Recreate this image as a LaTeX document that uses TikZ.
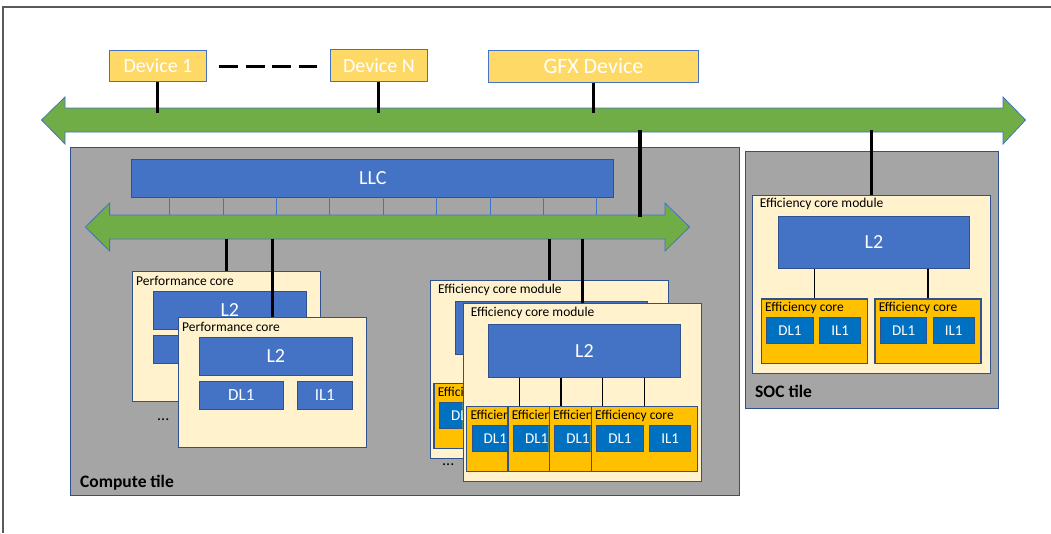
\documentclass[tikz,border=0pt]{standalone}
\usepackage{fontspec}
\setmainfont{Carlito}

\definecolor{tilegray}{HTML}{A5A5A5}
\definecolor{edgeblue}{HTML}{2F528F}
\definecolor{cacheblue}{HTML}{4472C4}
\definecolor{lonblue}{HTML}{0070C0}
\definecolor{coreyellow}{HTML}{FFC000}
\definecolor{cream}{HTML}{FFF2CC}
\definecolor{devyellow}{HTML}{FFD966}
\definecolor{busgreen}{HTML}{70AD47}

\newcommand{\fsz}[1]{\fontsize{#1}{#1}\selectfont}

\tikzset{
    boxed/.style={draw=edgeblue, line width=0.9pt, anchor=north west, inner sep=0pt},
    tile/.style={boxed, fill=tilegray, line width=1.3pt},
    devbox/.style={boxed, fill=devyellow, draw=cacheblue, text=white},
    cachebox/.style={boxed, fill=cacheblue, text=white, font=\fsz{20}},
    lonebox/.style={boxed, fill=lonblue, text=white, font=\fsz{15}},
    pcore/.style={boxed, fill=cream, minimum width=188pt, minimum height=130pt},
    emodule/.style={boxed, fill=cream, minimum width=238pt, minimum height=178pt},
    ecore/.style={boxed, fill=coreyellow, line width=1.3pt, minimum width=106pt, minimum height=64.5pt},
    lbl/.style={anchor=west, inner sep=0pt, font=\fsz{13.5}},
    tilelbl/.style={anchor=west, inner sep=0pt, font=\fsz{17.5}\bfseries},
    bus/.style={fill=busgreen, draw=cacheblue, line width=0.8pt},
    link/.style={black, line width=3.2pt},
    thinlink/.style={black, line width=1.6pt}
}

\begin{document}
\begin{tikzpicture}[x=1pt, y=-1pt]
    \useasboundingbox (0,0) rectangle (1051,533);
    \draw [black!65, line width=1.3pt] (3,533) -- (3,7) -- (1051,7);

    % system bus and devices
    \draw [bus] (41.5,120) -- (65,97) -- (65,108) -- (1003,108) -- (1003,97) -- (1025.5,120)
        -- (1003,144) -- (1003,132) -- (65,132) -- (65,144) -- cycle;
    \coordinate (busN) at (500,113);
    \coordinate (busS) at (639.5,130);
    \node [devbox, minimum width=97pt, minimum height=31pt, font=\fsz{20}] (dev1) at (109,50) {Device 1};
    \node [devbox, minimum width=97pt, minimum height=32pt, font=\fsz{20}] (devN) at (330,49) {Device N};
    \node [devbox, minimum width=210pt, minimum height=32pt, font=\fsz{22}] (gfx) at (488,50) {GFX Device};
    \foreach \d in {dev1, devN, gfx}
        \draw [link, line width=3pt] (\d.south) -- (\d.south |- busN);
    \draw [black, line width=3.5pt, dash pattern=on 19pt off 7.5pt, shorten <=12.5pt, shorten >=13pt]
        ([yshift=-0.5pt]dev1.east) -- ([yshift=-1pt]devN.west);

    % tiles
    \node [tile, minimum width=669pt, minimum height=348pt] (compute) at (70,147) {};
    \node [tile, minimum width=253pt, minimum height=257pt] (soc) at (745,151) {};
    \node [tilelbl] (computelbl) at ([xshift=10pt,yshift=14pt]compute.south west) {Compute tile};
    \node [tilelbl] (soclbl) at ([xshift=10pt,yshift=18pt]soc.south west) {SOC tile};

    % LLC and ring
    \node [cachebox, minimum width=482pt, minimum height=37.7pt] (llc) at (131.4,159) {LLC};
    \foreach \x in {169.4,222.8,...,600}
        \draw [cacheblue, line width=0.6pt] (\x,196.7) -- (\x,215);
    \draw [bus] (85.4,227) -- (109.6,203) -- (109.6,215) -- (665,215) -- (665,203) -- (689.5,227)
        -- (665,251) -- (665,239) -- (109.6,239) -- (109.6,251) -- cycle;
    \coordinate (ringN) at (639.5,217);
    \coordinate (ringS) at (400,239);
    \draw [link, line width=4pt] (busS) -- (ringN);

    % performance cores (back one mostly hidden)
    \node [pcore] (pa) at (132,271) {};
    \draw [link] (pa.north) -- (pa.north |- ringS);
    \node [lbl] (paT) at ([xshift=4pt,yshift=-10pt]pa.north west) {Performance core};
    \node [cachebox, minimum width=152.7pt, minimum height=38pt] (paL2) at ([xshift=21pt,yshift=-19.7pt]pa.north west) {L2};
    \node [lonebox, fill=cacheblue, minimum width=83.7pt, minimum height=28pt] (paD) at ([xshift=21pt,yshift=-63.7pt]pa.north west) {};

    \node [pcore] (pb) at (178,317) {};
    \draw [link] (pb.north) -- (pb.north |- ringS);
    \node [lbl] (pbT) at ([xshift=4pt,yshift=-10pt]pb.north west) {Performance core};
    \node [cachebox, minimum width=152.7pt, minimum height=38pt] (pbL2) at ([xshift=21pt,yshift=-19.7pt]pb.north west) {L2};
    \node [lonebox, fill=cacheblue, font=\fsz{17}, minimum width=83.7pt, minimum height=28pt] (pbD) at ([xshift=21pt,yshift=-63.7pt]pb.north west) {DL1};
    \node [lonebox, fill=cacheblue, font=\fsz{17}, minimum width=54.7pt, minimum height=28pt] (pbI) at ([xshift=119pt,yshift=-63.7pt]pb.north west) {IL1};
    \node [lbl, font=\fsz{16}] (pdots) at (157,420) {...};

    % efficiency core module, back
    \node [emodule] (ma) at (430,280) {};
    \draw [link] (ma.north) -- (ma.north |- ringS);
    \node [lbl] (maT) at ([xshift=8pt,yshift=-10pt]ma.north west) {Efficiency core module};
    \node [cachebox, minimum width=192pt, minimum height=52.7pt] (maL2) at ([xshift=25.3pt,yshift=-21pt]ma.north west) {};
    \node [ecore] (maC1) at ([xshift=3.3pt,yshift=-103pt]ma.north west) {};
    \begin{scope}
        \clip (maC1.north west) rectangle ([xshift=29.4pt]maC1.south west);
        \node [lbl] (maC1T) at ([xshift=4.3pt,yshift=-10pt]maC1.north west) {Efficiency core};
        \node [lonebox, minimum width=46.5pt, minimum height=26pt] (maC1D) at ([xshift=5.6pt,yshift=-19pt]maC1.north west) {DL1};
    \end{scope}
    \node [lbl, font=\fsz{16}] (edots) at (442,465) {...};

    % efficiency core module, front
    \node [emodule] (mb) at (462.7,303) {};
    \draw [link] (mb.north) -- (mb.north |- ringS);
    \node [lbl] (mbT) at ([xshift=8pt,yshift=-10pt]mb.north west) {Efficiency core module};
    \node [cachebox, minimum width=192pt, minimum height=52.7pt] (mbL2) at ([xshift=25.3pt,yshift=-21pt]mb.north west) {L2};
    \foreach \c/\dx/\w in {1/3.3/41.3, 2/44.6/41.4, 3/86/42, 4/128/106} {
        \node [ecore] (mbC\c) at ([xshift=\dx pt,yshift=-103pt]mb.north west) {};
        \draw [thinlink] (mbC\c.north) -- (mbC\c.north |- mbL2.south);
        \begin{scope}
            \clip (mbC\c.north west) rectangle ([xshift=\w pt]mbC\c.south west);
            \node [lbl] (mbC\c T) at ([xshift=4.3pt,yshift=-10pt]mbC\c.north west) {Efficiency core};
            \node [lonebox, minimum width=46.5pt, minimum height=26pt] (mbC\c D) at ([xshift=5.6pt,yshift=-19pt]mbC\c.north west) {DL1};
        \end{scope}
    }
    \node [lonebox, minimum width=40.7pt, minimum height=26pt] (mbC4I) at ([xshift=58.6pt,yshift=-19pt]mbC4.north west) {IL1};

    % SOC tile module
    \node [emodule] (socm) at (751.7,195) {};
    \draw [link] (socm.north) -- (socm.north |- busS);
    \node [lbl] (socmT) at ([xshift=8pt,yshift=-9pt]socm.north west) {Efficiency core module};
    \node [cachebox, minimum width=191.6pt, minimum height=52pt] (socmL2) at (777.7,215.7) {L2};
    \foreach \c/\x in {1/760.7, 2/874.3} {
        \node [ecore] (socmC\c) at (\x,298.3) {};
        \draw [thinlink] (socmC\c.north) -- (socmC\c.north |- socmL2.south);
        \node [lbl] (socmC\c T) at ([xshift=4.3pt,yshift=-10pt]socmC\c.north west) {Efficiency core};
        \node [lonebox, minimum width=46.5pt, minimum height=26pt] (socmC\c D) at ([xshift=5.6pt,yshift=-18.7pt]socmC\c.north west) {DL1};
        \node [lonebox, minimum width=40.7pt, minimum height=26pt] (socmC\c I) at ([xshift=58.6pt,yshift=-18.7pt]socmC\c.north west) {IL1};
    }
\end{tikzpicture}
\end{document}
